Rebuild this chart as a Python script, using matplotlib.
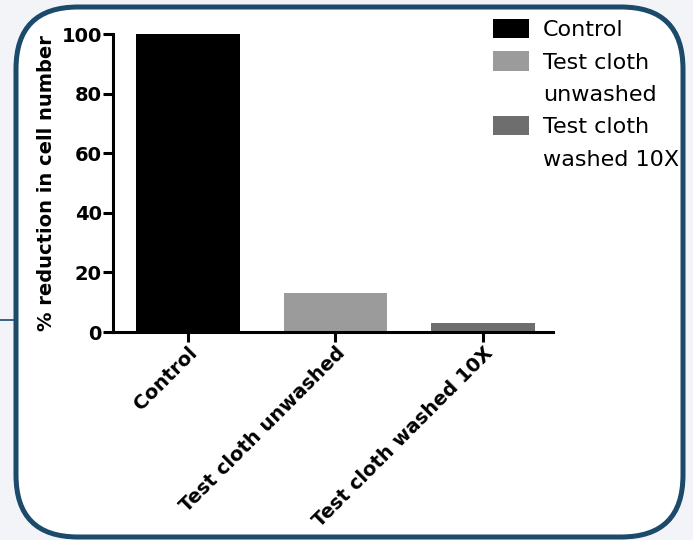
import numpy as np
import matplotlib
matplotlib.use('Agg')
import matplotlib.pyplot as plt
from matplotlib.patches import FancyBboxPatch, Rectangle
from matplotlib.lines import Line2D
from matplotlib.transforms import IdentityTransform

categories = ['Control', 'Test cloth unwashed', 'Test cloth washed 10X']
values = [100, 13, 3]
bar_colors = ['#000000', '#9b9b9b', '#6e6e6e']
legend_labels = ['Control', 'Test cloth\nunwashed', 'Test cloth\nwashed 10X']
y_ticks = [0, 20, 40, 60, 80, 100]

plt.rcParams['font.family'] = ['DejaVu Sans']

navy = '#1b4a6b'
fig = plt.figure(figsize=(6.93, 5.40), dpi=100, facecolor='#f2f4f7')

# rounded frame (pixel coords), kept behind the axes
frame = FancyBboxPatch((16, 3), 667, 530, boxstyle='round,pad=0,rounding_size=62',
                       transform=IdentityTransform(), facecolor='white',
                       edgecolor=navy, linewidth=3.6, zorder=-5)
fig.patches.append(frame)
fig.lines.append(Line2D([0, 16], [220, 220], transform=IdentityTransform(),
                        color=navy, linewidth=1.2, zorder=-5))

ax = fig.add_axes([113 / 693, 208 / 540, 440 / 693, 298 / 540], zorder=2)
ax.patch.set_alpha(0)
x = np.arange(len(categories))
bars = ax.bar(x, values, width=0.7, color=bar_colors)

ax.set_xlim(-0.508, 2.475)
ax.set_ylim(0, 100)
ax.set_yticks(y_ticks)
ax.set_xticks(x)
ax.set_xticklabels(categories, rotation=45, ha='right', va='top',
                   rotation_mode='anchor', fontweight='bold', fontsize=14)
for lab in ax.get_yticklabels():
    lab.set_fontweight('bold')
    lab.set_fontsize(14)
ax.set_ylabel('% reduction in cell number', fontweight='bold', fontsize=14)

for s in ['top', 'right']:
    ax.spines[s].set_visible(False)
for s in ['left', 'bottom']:
    ax.spines[s].set_linewidth(2.2)
ax.tick_params(width=2.2, length=7, pad=1)

# legend: split wrapped labels into rows, first row carries the patch
handles, labels = [], []
for bar, lab in zip(bars, legend_labels):
    for i, line in enumerate(lab.split('\n')):
        handles.append(bar if i == 0 else Rectangle((0, 0), 0, 0, alpha=0))
        labels.append(line)
leg = fig.legend(handles, labels, loc='upper left', bbox_to_anchor=(493, 521),
                 bbox_transform=IdentityTransform(), frameon=False, fontsize=16,
                 borderpad=0, borderaxespad=0, handlelength=1.6, handleheight=0.95,
                 handletextpad=0.65, labelspacing=0.5)
leg.set_zorder(3)

fig.savefig('out.png', dpi=100, facecolor=fig.get_facecolor())
